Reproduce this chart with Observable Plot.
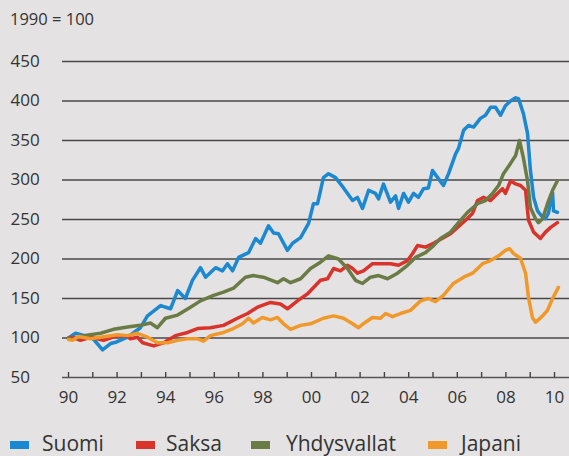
<!DOCTYPE html>
<html>
<head>
<meta charset="utf-8">
<script src="https://cdn.jsdelivr.net/npm/d3@7"></script>
<script src="https://cdn.jsdelivr.net/npm/@observablehq/plot@0.6"></script>
<style>
  html, body { margin: 0; padding: 0; background: #e4e2e2; }
  body { width: 569px; height: 456px; position: relative; overflow: hidden; font-family: "Open Sans", sans-serif; color: #333; }
  #title { position: absolute; left: 10px; top: 7px; font-size: 16.5px; }
  #chart { position: absolute; left: 0; top: 0; }
  #legend { position: absolute; left: 0; top: 429px; width: 569px; height: 27px; font-size: 21px; }
  .sw { position: absolute; top: 12px; width: 19px; height: 8px; }
  .lab { position: absolute; top: 0; line-height: 28px; white-space: nowrap; }
</style>
</head>
<body>
<div id="chart"></div>
<div id="title">1990 = 100</div>
<div id="legend"></div>
<script>
const seriesNames = ["Suomi", "Saksa", "Yhdysvallat", "Japani"];
const seriesColors = ["#1b88cf", "#d8342b", "#6a7b46", "#f0992a"];
const yTicks = [50, 100, 150, 200, 250, 300, 350, 400, 450];
const gridValues = [100, 150, 200, 250, 300, 350, 400, 450];
const yearTicks = d3.range(1990, 2011);
const yearLabels = d3.range(1990, 2011, 2);

const suomiYears = [1990.00,1990.29,1990.99,1991.40,1991.73,1991.98,1992.43,1992.96,1993.25,1993.79,1994.20,1994.49,1994.81,1995.10,1995.43,1995.64,1996.05,1996.34,1996.54,1996.75,1997.00,1997.41,1997.70,1997.90,1998.23,1998.44,1998.64,1999.01,1999.22,1999.55,1999.88,2000.08,2000.25,2000.49,2000.70,2000.99,2001.32,2001.69,2001.89,2002.10,2002.35,2002.63,2002.76,2002.96,2003.25,2003.46,2003.58,2003.79,2003.99,2004.20,2004.40,2004.61,2004.81,2004.98,2005.19,2005.43,2005.64,2005.93,2006.05,2006.26,2006.46,2006.67,2006.95,2007.16,2007.37,2007.57,2007.78,2007.98,2008.19,2008.40,2008.52,2008.72,2008.89,2009.01,2009.14,2009.30,2009.51,2009.63,2009.75,2009.84,2009.92,2009.96,2010.12];
const suomiValues = [100,106,100,85,93,95,101,113,128,141,137,160,150,173,189,177,189,185,194,185,202,208,226,220,242,233,232,211,220,227,245,270,270,303,308,303,290,274,278,264,287,283,276,295,272,280,264,283,272,283,278,289,290,312,303,293,308,333,340,363,369,367,378,382,392,392,382,394,400,404,403,384,359,312,278,261,253,251,258,274,284,261,259];

const saksaYears = [1990.00,1990.16,1990.49,1990.91,1991.44,1992.02,1992.35,1992.55,1992.84,1993.05,1993.50,1993.91,1994.40,1994.90,1995.31,1995.84,1996.38,1996.95,1997.37,1997.78,1998.31,1998.72,1999.01,1999.42,1999.84,2000.37,2000.66,2000.91,2001.19,2001.48,2001.69,2001.89,2002.14,2002.51,2002.84,2003.25,2003.58,2003.95,2004.16,2004.36,2004.69,2005.02,2005.43,2005.72,2006.01,2006.34,2006.63,2006.83,2007.08,2007.37,2007.65,2007.86,2007.98,2008.19,2008.40,2008.60,2008.81,2008.93,2009.14,2009.42,2009.63,2009.84,2010.12];
const saksaValues = [100,101,97,101,97,103,103,99,101,94,90,94,103,107,112,113,116,125,131,139,145,143,137,147,156,173,175,188,185,192,188,182,185,194,194,194,192,198,207,217,215,220,227,232,240,249,258,274,278,274,283,289,283,299,295,293,287,249,234,226,234,240,246];

const usaYears = [1990.00,1990.16,1990.62,1991.32,1991.85,1992.43,1992.96,1993.37,1993.66,1993.99,1994.49,1995.02,1995.43,1995.97,1996.38,1996.79,1997.28,1997.61,1998.02,1998.60,1998.85,1999.14,1999.55,1999.96,2000.37,2000.70,2001.11,2001.48,2001.81,2002.10,2002.43,2002.76,2003.13,2003.54,2003.95,2004.28,2004.69,2005.02,2005.31,2005.72,2006.05,2006.42,2006.83,2007.16,2007.45,2007.70,2007.90,2008.19,2008.40,2008.56,2008.72,2008.89,2009.01,2009.22,2009.34,2009.51,2009.71,2009.92,2010.12];
const usaValues = [100,98,103,106,111,114,116,119,113,125,129,139,147,154,158,163,177,179,177,170,175,170,175,188,196,204,200,188,173,169,177,179,175,182,192,202,208,217,226,234,246,259,270,274,283,293,308,321,331,350,328,299,265,251,246,251,270,287,299];

const japaniYears = [1990.00,1990.16,1990.41,1990.91,1991.32,1992.02,1992.43,1992.84,1993.25,1993.66,1994.07,1994.49,1994.90,1995.31,1995.56,1995.84,1996.38,1996.79,1997.16,1997.41,1997.61,1997.98,1998.31,1998.60,1998.85,1999.14,1999.55,1999.96,2000.49,2000.91,2001.32,2001.69,2001.93,2002.22,2002.51,2002.84,2003.05,2003.33,2003.66,2004.07,2004.49,2004.81,2005.10,2005.43,2005.84,2006.26,2006.63,2007.04,2007.37,2007.70,2007.98,2008.15,2008.31,2008.60,2008.81,2008.93,2009.09,2009.22,2009.51,2009.71,2009.92,2010.16];
const japaniValues = [98,97,102,99,101,104,103,106,101,94,94,97,99,99,96,103,107,112,118,125,119,126,123,126,118,111,116,118,125,128,125,118,113,120,126,125,131,127,131,135,147,150,146,154,169,177,182,194,198,204,211,213,207,201,182,151,126,120,128,135,150,164];

const allYears = [suomiYears, saksaYears, usaYears, japaniYears];
const allValues = [suomiValues, saksaValues, usaValues, japaniValues];
const rows = seriesNames.flatMap((name, i) =>
  allYears[i].map((yr, j) => ({series: name, year: yr, value: allValues[i][j]}))
);

const chart = Plot.plot({
  width: 569,
  height: 425,
  marginTop: 61,
  marginBottom: 48,
  marginLeft: 62,
  marginRight: 0,
  style: {background: "transparent", fontFamily: "Open Sans, sans-serif", fontSize: "17px", color: "#333", overflow: "visible"},
  x: {domain: [1989.753, 2010.617], label: null},
  y: {domain: [50, 450], label: null},
  color: {domain: seriesNames, range: seriesColors},
  marks: [
    Plot.ruleY(gridValues, {stroke: "#2e2e2e", strokeWidth: 1.6, strokeOpacity: 0.85}),
    Plot.ruleY([50], {stroke: "#555", strokeWidth: 1.6}),
    Plot.axisY({ticks: yTicks, label: null, tickSize: 0, tickPadding: 52, textAnchor: "start", tickFormat: d => d, fill: "#333"}),
    Plot.axisX({ticks: yearTicks, label: null, tickSize: -5, tickFormat: () => "", stroke: "#444", strokeWidth: 1.4}),
    Plot.axisX({ticks: yearLabels, label: null, tickSize: 0, tickPadding: 13, tickFormat: d => String(d % 100).padStart(2, "0"), fill: "#333"}),
    Plot.line(rows, {x: "year", y: "value", z: "series", stroke: "series", strokeWidth: 3.5, curve: "linear", strokeLinejoin: "round"})
  ]
});
document.getElementById("chart").appendChild(chart);

const legendPos = [[10, 42], [136, 166], [251, 286], [428, 461]];
const legend = document.getElementById("legend");
seriesNames.forEach((name, i) => {
  const sw = document.createElement("div");
  sw.className = "sw";
  sw.style.left = legendPos[i][0] + "px";
  sw.style.background = seriesColors[i];
  legend.appendChild(sw);
  const lab = document.createElement("div");
  lab.className = "lab";
  lab.style.left = legendPos[i][1] + "px";
  lab.textContent = name;
  legend.appendChild(lab);
});
</script>
</body>
</html>
